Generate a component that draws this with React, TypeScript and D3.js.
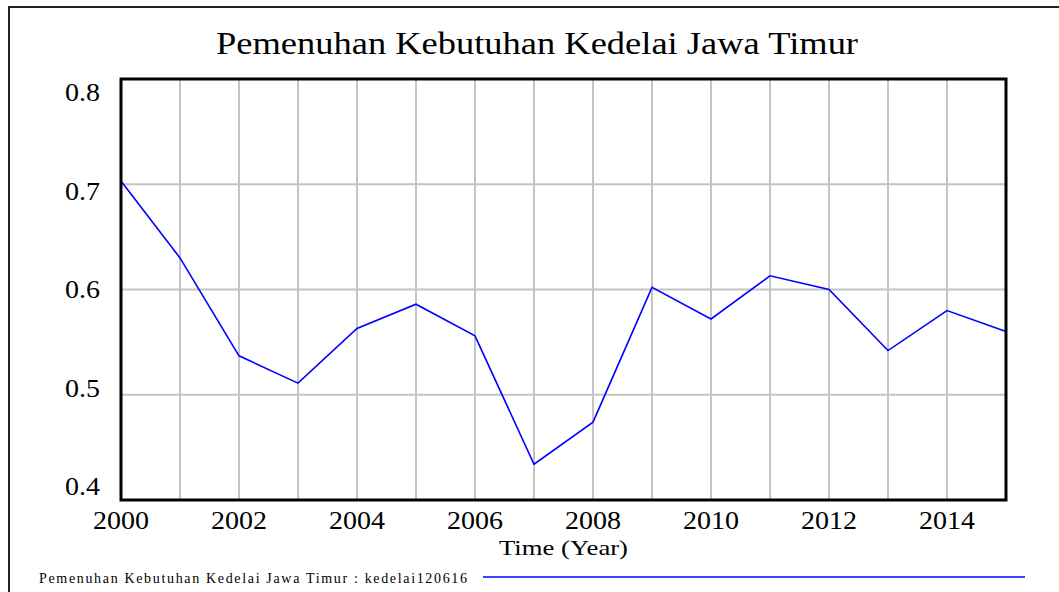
import React from "react";
import * as d3 from "d3";

const years = [2000, 2001, 2002, 2003, 2004, 2005, 2006, 2007, 2008, 2009, 2010, 2011, 2012, 2013, 2014, 2015];
const values = [0.703, 0.630, 0.537, 0.511, 0.563, 0.586, 0.556, 0.434, 0.474, 0.602, 0.572, 0.613, 0.600, 0.542, 0.580, 0.560];
const yTicks = [0.4, 0.5, 0.6, 0.7, 0.8];
const xTickLabels = [2000, 2002, 2004, 2006, 2008, 2010, 2012, 2014];
const title = "Pemenuhan Kebutuhan Kedelai Jawa Timur";
const xTitle = "Time (Year)";
const legendText = "Pemenuhan Kebutuhan Kedelai Jawa Timur : kedelai120616";

export default function App() {
  const W = 1059, H = 592;
  const left = 121, right = 1006, top = 79, bottom = 500;
  const x = d3.scaleLinear().domain([2000, 2015]).range([left, right]);
  const y = d3.scaleLinear().domain([0.4, 0.8]).range([bottom, top]);
  const yLab = d3.scaleLinear().domain([0.4, 0.8]).range([487, 93]);
  const line = d3.line<number>().x((_, i) => x(years[i])).y((d) => y(d));
  const ff = { fontFamily: '"Liberation Serif", "Times New Roman", Times, serif' };

  return (
    <svg width={W} height={H} style={{ position: "absolute", left: 0, top: 0, background: "#fff" }}>
      <rect x={9} y={7} width={1200} height={800} fill="#fff" stroke="#222" strokeWidth={2} />
      <text x={216} y={54} style={ff} fontSize={32} textLength={642} lengthAdjust="spacingAndGlyphs" fill="#000">
        {title}
      </text>
      {years.slice(1, -1).map((yr) => (
        <line key={"gx" + yr} x1={x(yr)} x2={x(yr)} y1={top} y2={bottom} stroke="#c4c4c4" strokeWidth={2} />
      ))}
      {yTicks.slice(1, -1).map((t) => (
        <line key={"gy" + t} x1={left} x2={right} y1={y(t)} y2={y(t)} stroke="#c4c4c4" strokeWidth={2} />
      ))}
      <path d={line(values) || ""} fill="none" stroke="#0000ff" strokeWidth={1.6} />
      <rect x={left} y={top} width={right - left} height={bottom - top} fill="none" stroke="#000" strokeWidth={3} />
      {yTicks.map((t) => (
        <text key={"yl" + t} x={0} y={0} transform={`translate(100,${yLab(t) + 8}) scale(1.12,1)`} textAnchor="end" style={ff} fontSize={25} fill="#000">
          {d3.format(".1f")(t)}
        </text>
      ))}
      {xTickLabels.map((t) => (
        <text key={"xl" + t} x={0} y={0} transform={`translate(${x(t)},529) scale(1.12,1)`} textAnchor="middle" style={ff} fontSize={25} fill="#000">
          {t}
        </text>
      ))}
      <text x={499} y={555} style={ff} fontSize={21} textLength={129} lengthAdjust="spacingAndGlyphs" fill="#000">
        {xTitle}
      </text>
      <text x={39} y={583} style={ff} fontSize={14} textLength={428} lengthAdjust="spacing" fill="#000">
        {legendText}
      </text>
      <line x1={483} x2={1025} y1={577} y2={577} stroke="#0000ff" strokeWidth={1.5} />
    </svg>
  );
}
